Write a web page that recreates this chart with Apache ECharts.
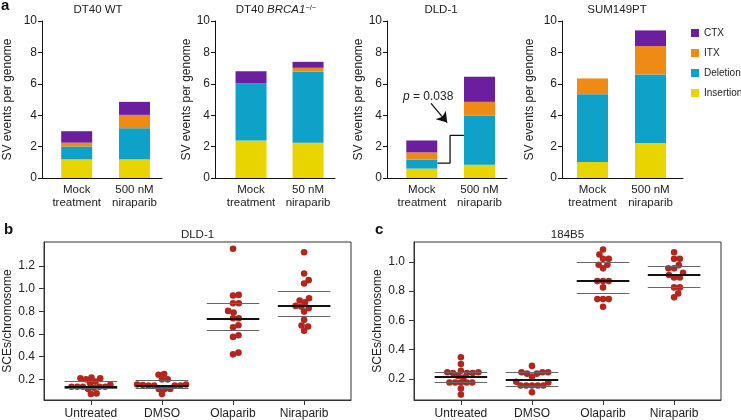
<!DOCTYPE html>
<html><head><meta charset="utf-8">
<script src="https://cdn.jsdelivr.net/npm/echarts@6/dist/echarts.min.js"></script>
<style>html,body{margin:0;padding:0;background:#fff}#c{width:741px;height:420px}</style>
</head><body><div id="c"></div>
<script>
const FONT = "'Liberation Sans', Arial, Helvetica, sans-serif";

// ---------- Panel a data ----------
const catsA = [
  ['Mock\ntreatment', '500 nM\nniraparib'],
  ['Mock\ntreatment', '50 nM\nniraparib'],
  ['Mock\ntreatment', '500 nM\nniraparib'],
  ['Mock\ntreatment', '500 nM\nniraparib']
];
const svTypes = ['Insertion', 'Deletion', 'ITX', 'CTX'];
const insertion = [[1.19, 1.19], [2.39, 2.25], [0.60, 0.85], [1.02, 2.23]];
const deletion  = [[0.82, 1.98], [3.63, 4.52], [0.57, 3.13], [4.32, 4.37]];
const itx       = [[0.24, 0.85], [0.00, 0.25], [0.46, 0.87], [1.00, 1.80]];
const ctx       = [[0.73, 0.83], [0.78, 0.38], [0.76, 1.60], [0.00, 1.00]];
const pConnector = [[1.27, 0.95], [1.49, 0.95], [1.49, 2.71], [1.73, 2.71]];
const pArrow = [[1.16, 4.75], [1.44, 3.53]];
const pLabelAt = [1.11, 5.15];

// ---------- Panel b / c data ----------
const sceCats = ['Untreated', 'DMSO', 'Olaparib', 'Niraparib'];
const sceTicksB = [0.2, 0.4, 0.6, 0.8, 1.0, 1.2];
const sceTicksC = [0.2, 0.4, 0.6, 0.8, 1.0];
const dld1Untreated = [0.215, 0.209, 0.209, 0.20, 0.18, 0.165, 0.153, 0.135, 0.135, 0.135, 0.135, 0.135, 0.126, 0.115, 0.076, 0.071];
const dld1DMSO = [0.247, 0.24, 0.2, 0.2, 0.155, 0.15, 0.145, 0.145, 0.145, 0.145, 0.155, 0.115, 0.115, 0.115, 0.07];
const dld1Olaparib = [1.35, 0.944, 0.938, 0.871, 0.871, 0.803, 0.788, 0.738, 0.738, 0.676, 0.659, 0.588, 0.574, 0.435, 0.42];
const dld1Niraparib = [1.32, 1.132, 1.074, 1.044, 0.915, 0.894, 0.879, 0.847, 0.841, 0.826, 0.797, 0.724, 0.674, 0.665, 0.629];
const dld1Median = [0.137, 0.142, 0.738, 0.847];
const dld1Upper  = [0.180, 0.190, 0.871, 0.979];
const dld1Lower  = [0.125, 0.120, 0.629, 0.759];
const b184Untreated = [0.348, 0.302, 0.255, 0.245, 0.245, 0.24, 0.24, 0.24, 0.22, 0.21, 0.175, 0.175, 0.175, 0.175, 0.175, 0.134, 0.093];
const b184DMSO = [0.289, 0.245, 0.245, 0.236, 0.236, 0.245, 0.216, 0.18, 0.175, 0.155, 0.155, 0.155, 0.155, 0.155, 0.109];
const b184Olaparib = [1.084, 1.05, 1.02, 1.02, 0.98, 0.98, 0.955, 0.868, 0.868, 0.868, 0.825, 0.745, 0.745, 0.745, 0.693];
const b184Niraparib = [1.065, 1.02, 1.02, 0.977, 0.955, 0.955, 0.925, 0.91, 0.893, 0.893, 0.825, 0.825, 0.784, 0.757];
const b184Median = [0.216, 0.195, 0.868, 0.911];
const b184Upper  = [0.243, 0.243, 1.000, 0.966];
const b184Lower  = [0.175, 0.152, 0.784, 0.825];

// ---------- layout / style ----------
const colors = { Insertion: '#e8d500', Deletion: '#0ea2c9', ITX: '#ef8a14', CTX: '#6b1f9e' };
const BAR_W = 31;
const layA = [
  { left: 42,  width: 120, xmin: 0.400, xmax: 2.476, title: 98,  gap: 28 },
  { left: 215, width: 120, xmin: 0.368, xmax: 2.473, title: 276, gap: 21 },
  { left: 387, width: 120, xmin: 0.397, xmax: 2.477, title: 441, gap: 22 },
  { left: 562, width: 121, xmin: 0.474, xmax: 2.560, title: 617, gap: 26 }
];
const laySCE = [
  { left: 44,  width: 307, ymin: 0.018, ymax: 1.41,  title: 'DLD-1', ticks: sceTicksB,
    groups: [dld1Untreated, dld1DMSO, dld1Olaparib, dld1Niraparib], med: dld1Median, up: dld1Upper, lo: dld1Lower },
  { left: 414, width: 307, ymin: 0.056, ymax: 1.135, title: '184B5', ticks: sceTicksC,
    groups: [b184Untreated, b184DMSO, b184Olaparib, b184Niraparib], med: b184Median, up: b184Upper, lo: b184Lower }
];
const SCE_TOP = 242, SCE_H = 158, SCE_XMIN = 0.34, SCE_XMAX = 4.66;
const DOT = '#b3261e';

// beeswarm ("swarm" method, ascending priority)
function swarm(vals, pxX, pxY, d) {
  const order = vals.map((v, i) => i).sort((a, b) => vals[a] - vals[b]);
  const placed = [], out = new Array(vals.length);
  for (const i of order) {
    const y = vals[i] * pxY;
    const pos = [0], neg = [];
    for (const p of placed) {
      const dy = y - p.y;
      if (Math.abs(dy) < d) { const o = Math.sqrt(d * d - dy * dy); pos.push(p.x + o); neg.push(p.x - o); }
    }
    const cands = pos.concat(neg).map((x, k) => ({ x, k }))
      .sort((a, b) => (Math.abs(a.x) - Math.abs(b.x)) || (a.k - b.k));
    let chosen = 0;
    for (const c of cands) {
      let ok = true;
      for (const p of placed) {
        const dx = c.x - p.x, dy = y - p.y;
        if (dx * dx + dy * dy < d * d - 0.01) { ok = false; break; }
      }
      if (ok) { chosen = c.x; break; }
    }
    placed.push({ x: chosen, y });
    out[i] = chosen / pxX;
  }
  return out;
}

function barItem(params, api) {
  const x = api.value(0), y0 = api.value(1), y1 = api.value(2);
  const p0 = api.coord([x, y0]), p1 = api.coord([x, y1]);
  return { type: 'rect', shape: { x: p0[0] - BAR_W / 2, y: p1[1], width: BAR_W, height: p0[1] - p1[1] },
    style: { fill: api.visual('color') } };
}

const grid = [], xAxis = [], yAxis = [], series = [], graphic = [];
const axisTxt = { fontFamily: FONT, color: '#222' };

// panel a
layA.forEach((L, p) => {
  grid.push({ left: L.left, top: 21, width: L.width, height: 157 });
  xAxis.push({
    type: 'value', gridIndex: p, min: L.xmin, max: L.xmax,
    axisLine: { show: true, onZero: false, lineStyle: { color: '#111', width: 1 } },
    axisTick: { show: false }, splitLine: { show: false },
    axisLabel: { customValues: [1, 2], formatter: v => catsA[p][Math.round(v) - 1],
      fontSize: 11.5, lineHeight: 13, margin: 5, ...axisTxt }
  });
  yAxis.push({
    type: 'value', gridIndex: p, min: 0, max: 10, interval: 2,
    name: 'SV events per genome', nameLocation: 'middle', nameGap: L.gap,
    nameTextStyle: { fontSize: 12, ...axisTxt },
    axisLine: { show: true, lineStyle: { color: '#111', width: 1 } },
    axisTick: { show: true, length: 4, lineStyle: { color: '#111' } },
    splitLine: { show: false },
    axisLabel: { fontSize: 12, margin: 5, ...axisTxt }
  });
  const vals = { Insertion: insertion[p], Deletion: deletion[p], ITX: itx[p], CTX: ctx[p] };
  const base = [0, 0];
  svTypes.forEach(t => {
    const data = vals[t].map((v, i) => { const r = [i + 1, base[i], base[i] + v]; base[i] += v; return r; });
    series.push({
      type: 'custom', name: t, xAxisIndex: p, yAxisIndex: p, renderItem: barItem,
      itemStyle: { color: colors[t] }, silent: true, data,
      encode: { x: 0, y: [1, 2] }
    });
  });
  graphic.push({ type: 'text', x: L.title, y: 10, style: {
    text: p === 1 ? '{n|DT40 }{i|BRCA1}{s|−/−}' : ['DT40 WT', '', 'DLD-1', 'SUM149PT'][p],
    align: 'center', verticalAlign: 'middle', fontFamily: FONT, fontSize: 11.5, fill: '#222',
    rich: { n: { fontSize: 11.5, fontFamily: FONT }, i: { fontSize: 11.5, fontStyle: 'italic', fontFamily: FONT },
            s: { fontSize: 7.5, fontFamily: FONT, verticalAlign: 'top', padding: [0, 0, 5, 0] } }
  } });
});

// DLD-1 annotation
series.push({
  type: 'line', name: 'pconn', xAxisIndex: 2, yAxisIndex: 2, data: pConnector, symbol: 'none',
  lineStyle: { color: '#111', width: 1.3 }, silent: true, z: 5,
  markLine: { silent: true, symbol: ['none', 'arrow'], symbolSize: 10,
    lineStyle: { color: '#111', width: 1.3, type: 'solid' }, label: { show: false },
    data: [[{ coord: pArrow[0] }, { coord: pArrow[1] }]] },
  markPoint: { silent: true, symbol: 'circle', symbolSize: 0,
    data: [{ coord: pLabelAt }],
    label: { show: true, position: 'inside', formatter: '{i|p} = 0.038',
      fontSize: 12, fontFamily: FONT, color: '#222',
      rich: { i: { fontStyle: 'italic', fontSize: 12, fontFamily: FONT, color: '#222' } } } }
});

// panels b, c
laySCE.forEach((L, k) => {
  const gi = 4 + k;
  grid.push({ left: L.left, top: SCE_TOP, width: L.width, height: SCE_H, show: true,
    borderColor: '#333', borderWidth: 1, backgroundColor: 'transparent' });
  xAxis.push({
    type: 'value', gridIndex: gi, min: SCE_XMIN, max: SCE_XMAX,
    axisLine: { show: true, onZero: false, lineStyle: { color: '#333' } },
    axisTick: { show: true, customValues: [1, 2, 3, 4], length: 5, lineStyle: { color: '#333' } },
    splitLine: { show: false },
    axisLabel: { customValues: [1, 2, 3, 4], formatter: v => sceCats[Math.round(v) - 1],
      fontSize: 12, margin: 8, ...axisTxt }
  });
  yAxis.push({
    type: 'value', gridIndex: gi, min: L.ymin, max: L.ymax,
    name: 'SCEs/chromosome', nameLocation: 'middle', nameGap: 30,
    nameTextStyle: { fontSize: 12, ...axisTxt },
    axisLine: { show: true, onZero: false, lineStyle: { color: '#333' } },
    axisTick: { show: true, customValues: L.ticks, length: 5, lineStyle: { color: '#333' } },
    splitLine: { show: false },
    axisLabel: { customValues: L.ticks, formatter: v => v.toFixed(1), fontSize: 12, margin: 9, ...axisTxt }
  });
  const pxX = L.width / (SCE_XMAX - SCE_XMIN), pxY = SCE_H / (L.ymax - L.ymin);
  const pts = [];
  L.groups.forEach((g, gi2) => {
    const offs = swarm(g, pxX, pxY, 5.7);
    g.forEach((v, i) => pts.push([gi2 + 1 + offs[i], v]));
  });
  series.push({ type: 'scatter', xAxisIndex: gi, yAxisIndex: gi, data: pts, symbolSize: 6.6,
    itemStyle: { color: DOT, opacity: 1 }, silent: true, z: 2 });
  const segs = [];
  const addSeg = (arr, color, width) => arr.forEach((v, i) => segs.push([
    { coord: [i + 1 - 0.37, v], lineStyle: { color, width, type: 'solid' } }, { coord: [i + 1 + 0.37, v] }]));
  addSeg(L.up, '#666', 1.2);
  addSeg(L.lo, '#666', 1.2);
  addSeg(L.med, '#111', 2.2);
  series.push({ type: 'line', xAxisIndex: gi, yAxisIndex: gi, data: [], silent: true, z: 4,
    markLine: { silent: true, symbol: 'none', label: { show: false }, animation: false, data: segs } });
  graphic.push({ type: 'text', x: L.left + L.width / 2, y: 235, style: {
    text: L.title, align: 'center', verticalAlign: 'middle', fontFamily: FONT, fontSize: 11.5, fill: '#222' } });
});

// panel letters
[['a', 1, 6], ['b', 4, 230], ['c', 375, 230]].forEach(([t, x, y]) => graphic.push({
  type: 'text', x, y, style: { text: t, verticalAlign: 'middle', fontFamily: FONT, fontSize: 15, fontWeight: 'bold', fill: '#111' } }));

const chart = echarts.init(document.getElementById('c'), null, { renderer: 'canvas' });
chart.setOption({
  animation: false,
  backgroundColor: '#fff',
  textStyle: { fontFamily: FONT },
  grid, xAxis, yAxis, series, graphic,
  legend: {
    data: ['CTX', 'ITX', 'Deletion', 'Insertion'], orient: 'vertical', left: 691, top: 26, padding: 0,
    itemWidth: 8, itemHeight: 8, itemGap: 6, icon: 'rect', selectedMode: false,
    textStyle: { fontSize: 10, lineHeight: 14, fontFamily: FONT, color: '#222' }
  }
});
</script>
</body></html>
